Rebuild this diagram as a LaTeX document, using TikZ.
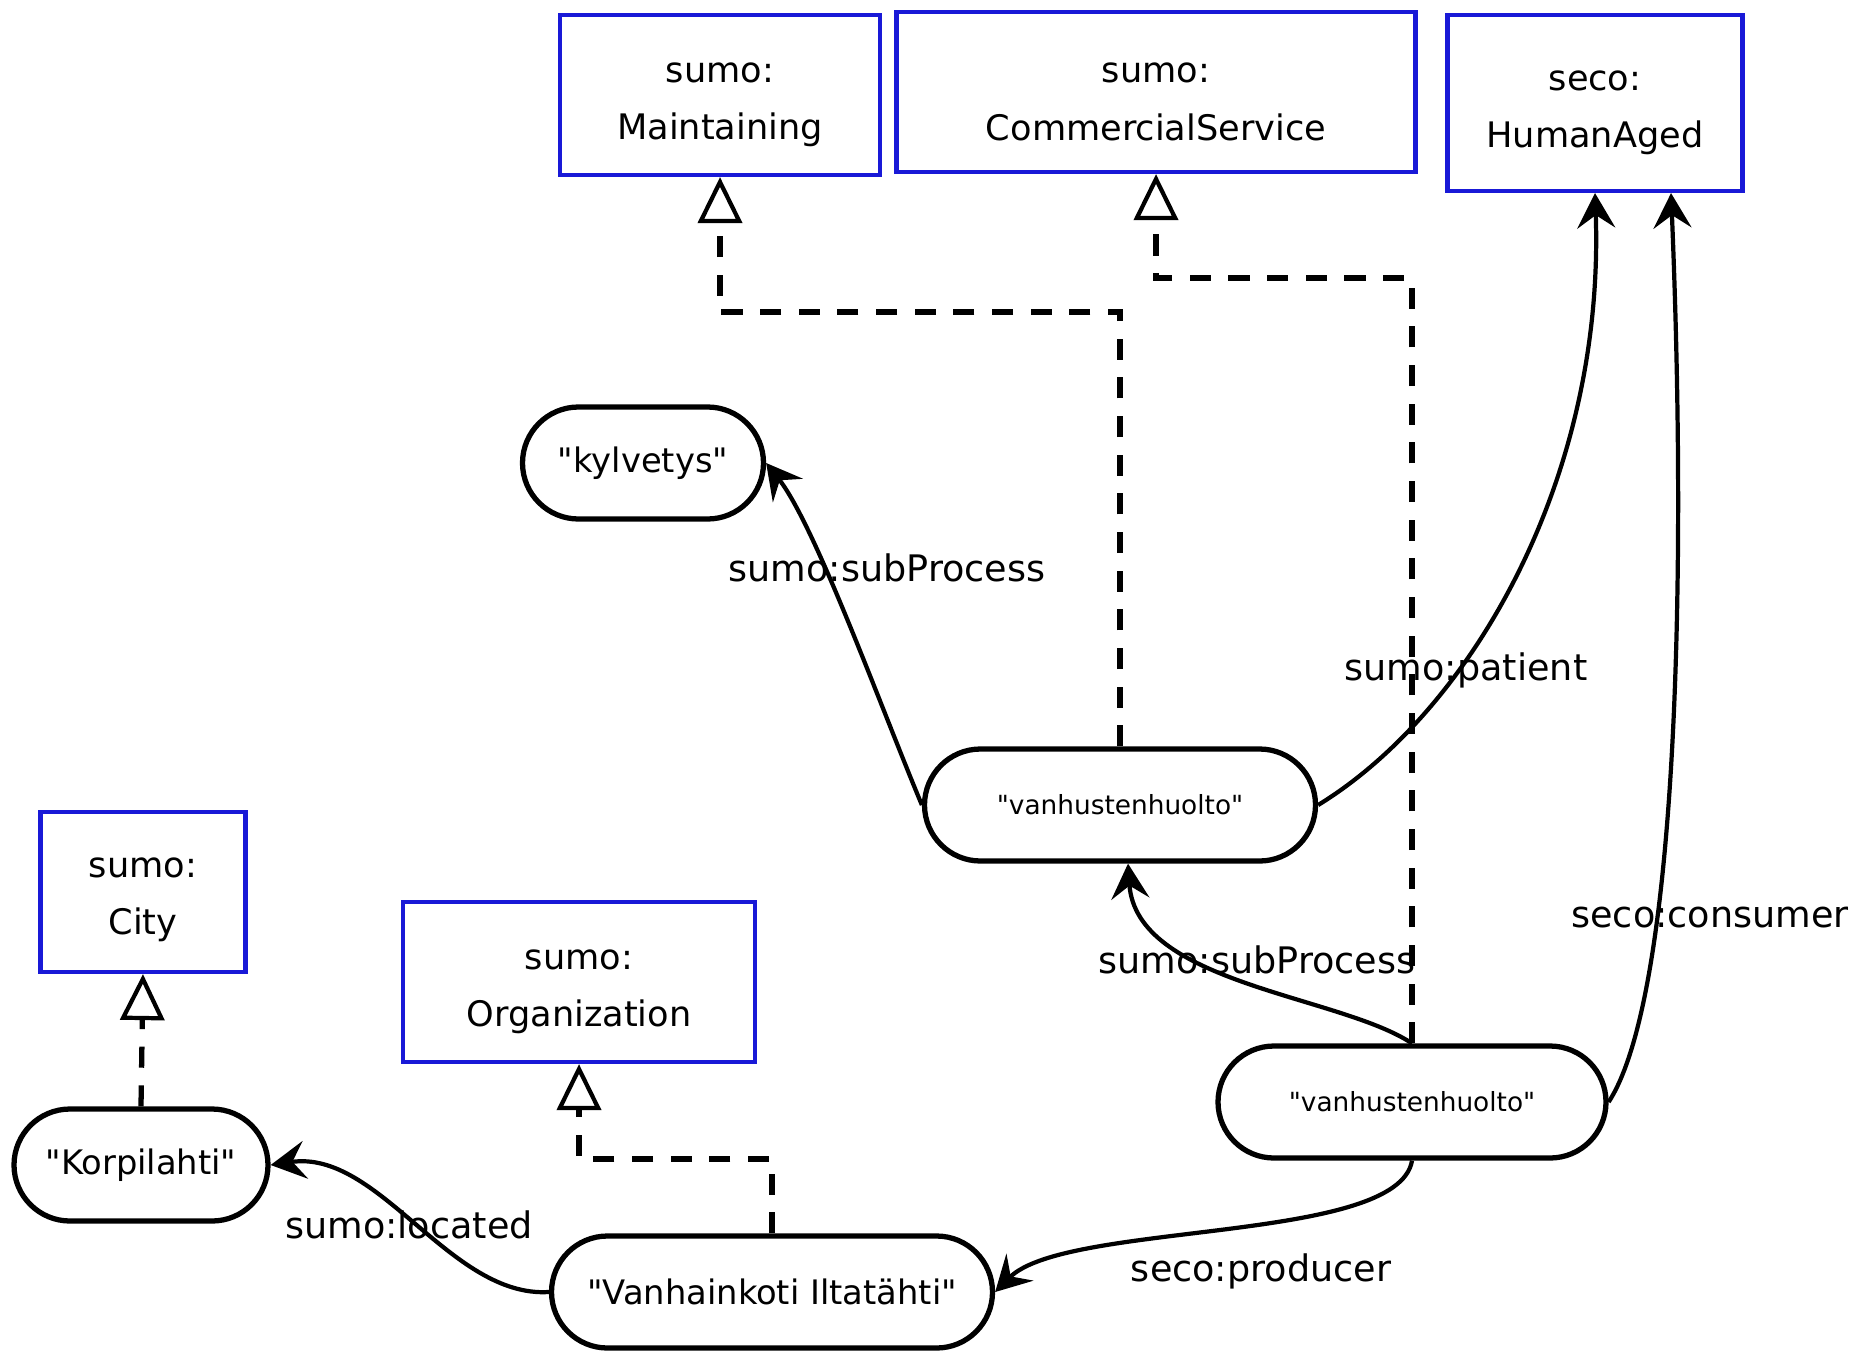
\documentclass[tikz,border=0pt]{standalone}
\usepackage{fontspec}
\setmainfont{DejaVu Sans}[Ligatures=TeXOff]
\usetikzlibrary{arrows.meta,shapes.misc}
\definecolor{clsblue}{RGB}{25,25,215}
\begin{document}
\begin{tikzpicture}[x=0.1mm,y=-0.1mm,
  cls/.style={draw=clsblue, line width=1.2pt, rectangle, inner sep=0pt},
  clstext/.style={align=center, inner sep=0pt, font=\fontsize{10}{16.3}\selectfont},
  inst/.style={draw, line width=1.5pt, rounded rectangle, inner sep=0pt,
    font=\fontsize{9.6}{11}\selectfont, minimum height=11.2mm},
  small/.style={font=\fontsize{7.5}{9}\selectfont},
  rel/.style={line width=1.2pt, -{Stealth[length=3.5mm,width=3.8mm,inset=1.3mm]}},
  gen/.style={line width=1.5pt, dash pattern=on 6pt off 5pt,
    -{Triangle[open,length=4.6mm,width=4.4mm,line width=1.2pt]}},
  lbl/.style={font=\fontsize{10.4}{12}\selectfont, inner sep=0pt}
]
\useasboundingbox (0,0) rectangle (1858,1350);

% class boxes
\node[cls, minimum width=32mm, minimum height=16mm] (maint) at (720,95) {};
\node[cls, minimum width=51.9mm, minimum height=16mm] (comm) at (1156,92) {};
\node[cls, minimum width=29.5mm, minimum height=17.6mm] (aged) at (1595,103) {};
\node[cls, minimum width=20.5mm, minimum height=16mm] (city) at (143,892) {};
\node[cls, minimum width=35.2mm, minimum height=16mm] (org) at (579,982) {};
\node[clstext] (maint-t) at ([yshift=-1mm]maint.center) {sumo:\\Maintaining};
\node[clstext] (comm-t) at ([yshift=-1mm]comm.center) {sumo:\\CommercialService};
\node[clstext] (aged-t) at ([yshift=-1mm]aged.center) {seco:\\HumanAged};
\node[clstext] (city-t) at ([yshift=-0.8mm]city.center) {sumo:\\City};
\node[clstext] (org-t) at ([yshift=-1mm]org.center) {sumo:\\Organization};

% instance nodes
\node[inst, minimum width=24.1mm] (kyl) at (643,463) {"kylvetys"};
\node[inst, small, minimum width=39.1mm] (vh1) at (1120,805) {"vanhustenhuolto"};
\node[inst, small, minimum width=38.8mm] (vh2) at (1412,1102) {"vanhustenhuolto"};
\node[inst, minimum width=25.4mm] (korp) at (141,1165) {"Korpilahti"};
\node[inst, minimum width=44.1mm] (vank) at (772,1292) {"Vanhainkoti Iltatähti"};

% bend coordinates of the dashed connectors
\coordinate (t1) at (0,312);
\coordinate (t2) at (0,278);
\coordinate (t3) at (0,1159);

% dashed (type) connectors
\draw[gen] (vh1.north) -- (vh1.north |- t1) -| (maint.south);
\draw[gen] (vh2.north) -- (vh2.north |- t2) -| (comm.south);
\draw[gen] (vank.north) -- (vank.north |- t3) -| (org.south);
\draw[gen] (korp.north) -- (city.south);

% solid property connectors
\draw[rel] (vh1.west) .. controls (880,705) and (815,525) .. (kyl.east);
\draw[rel] (vh1.east) .. controls (1470,712) and (1605,480) .. (aged.south);
\draw[rel] (vh2.east) .. controls (1675,1000) and (1688,600) .. ([xshift=7.6mm]aged.south);
\draw[rel] (vh2.north) .. controls (1339,995) and (1136,984) .. ([xshift=0.8mm]vh1.south);
\draw[rel] (vh2.south) .. controls (1398,1244) and (1066,1221) .. (vank.east);
\draw[rel] (vank.west) .. controls (450,1298) and (379,1149) .. (korp.east);

% connector labels
\node[lbl] (l1) at (887,568) {sumo:subProcess};
\node[lbl] (l2) at (1466,670) {sumo:patient};
\node[lbl] (l3) at (1710,918) {seco:consumer};
\node[lbl] (l4) at (1257,960) {sumo:subProcess};
\node[lbl] (l5) at (1261,1271) {seco:producer};
\node[lbl] (l6) at (409,1225) {sumo:located};
\end{tikzpicture}
\end{document}
